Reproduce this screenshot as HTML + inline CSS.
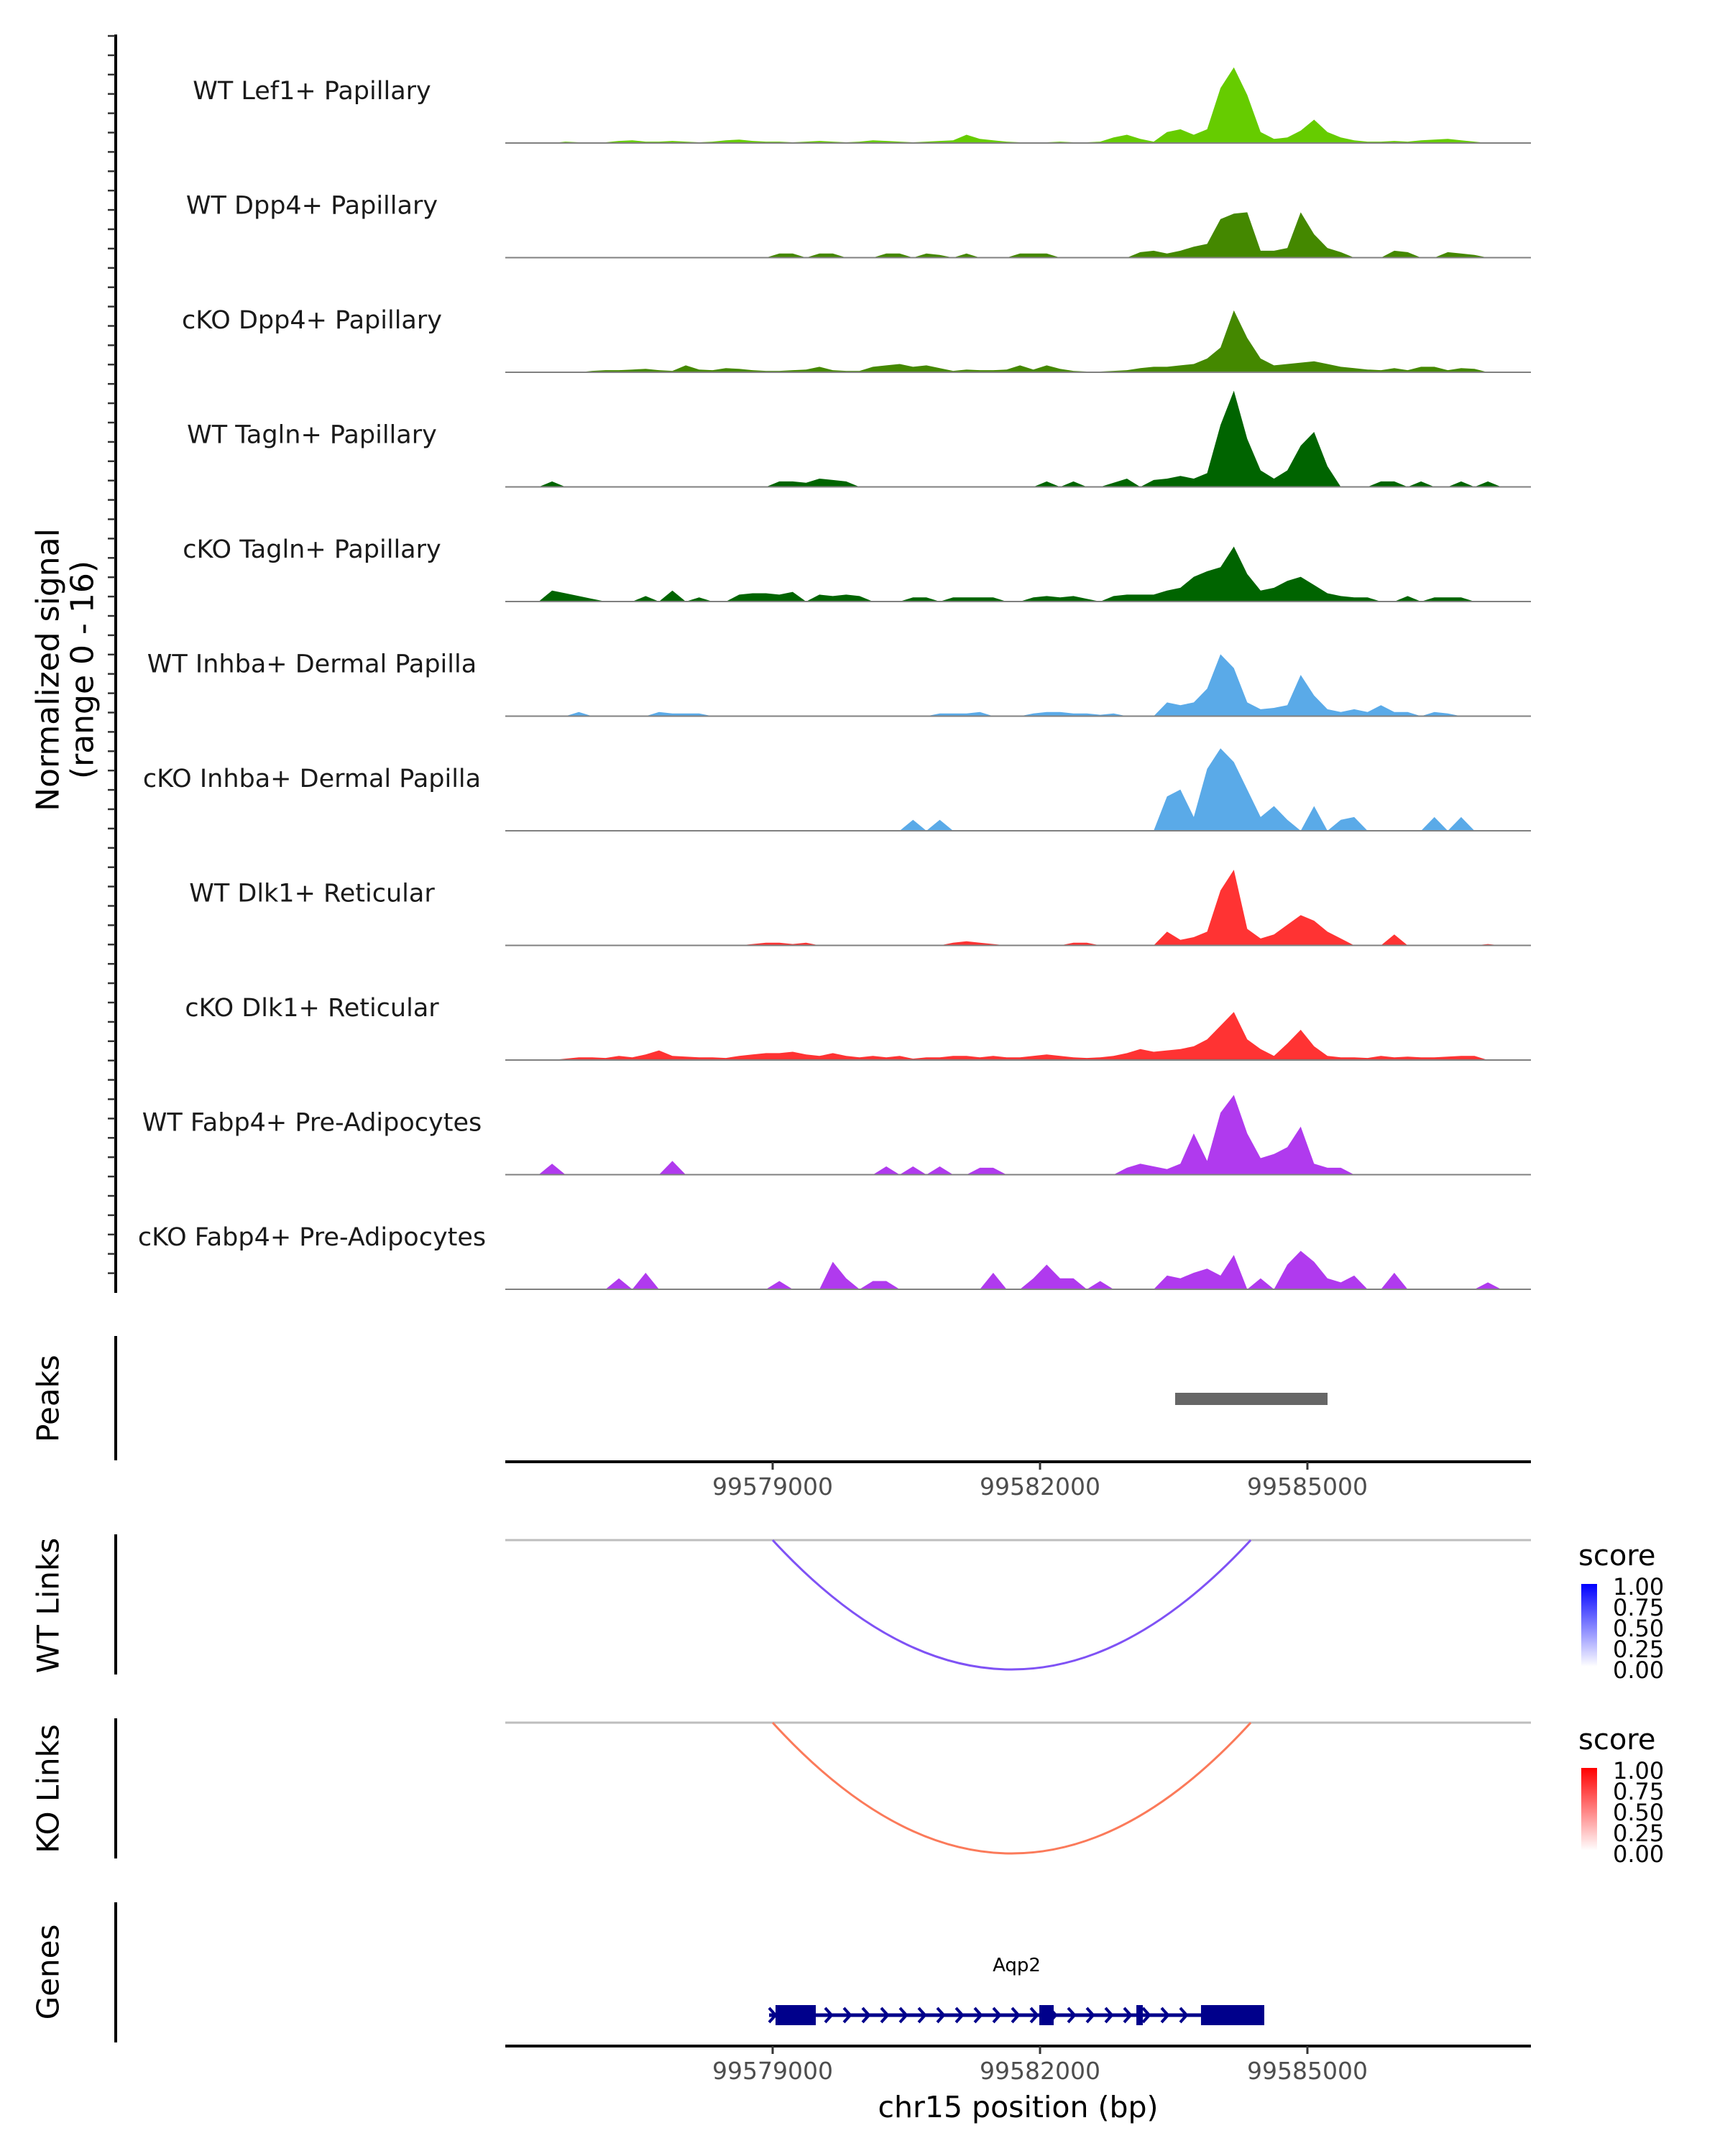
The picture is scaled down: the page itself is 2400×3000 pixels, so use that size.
<!DOCTYPE html>
<html><head><meta charset="utf-8"><style>
html,body{margin:0;padding:0;background:#fff}
svg{display:block;font-family:"DejaVu Sans","Liberation Sans",sans-serif}
</style></head><body>
<svg id="fig" xmlns="http://www.w3.org/2000/svg" width="2400" height="3000" viewBox="0 0 2400 3000">
<defs>
<linearGradient id="gWT" x1="0" y1="1" x2="0" y2="0"><stop offset="0" stop-color="#ffffff"/><stop offset="1" stop-color="#0000ff"/></linearGradient>
<linearGradient id="gKO" x1="0" y1="1" x2="0" y2="0"><stop offset="0" stop-color="#ffffff"/><stop offset="1" stop-color="#ff0000"/></linearGradient>
</defs>
<g id="tracks"></g>
<g id="other"></g>
</svg>
<script>
const trackNames = ["WT Lef1+ Papillary","WT Dpp4+ Papillary","cKO Dpp4+ Papillary","WT Tagln+ Papillary","cKO Tagln+ Papillary","WT Inhba+ Dermal Papilla","cKO Inhba+ Dermal Papilla","WT Dlk1+ Reticular","cKO Dlk1+ Reticular","WT Fabp4+ Pre-Adipocytes","cKO Fabp4+ Pre-Adipocytes"];
const trackColors = ["#66cc00","#448800","#448800","#006400","#006400","#5aaae8","#5aaae8","#ff3333","#ff3333","#b03aee","#b03aee"];
const binStart = 99576000;
const binSize = 150;
const sLef1 = [0,0,0,0,.2,.1,.1,.1,.3,.4,.2,.2,.3,.2,.1,.2,.4,.5,.3,.2,.2,.1,.2,.3,.2,.1,.2,.4,.3,.2,.1,.2,.3,.4,1.2,.6,.4,.2,.1,.1,.1,.2,.1,.1,.2,.8,1.2,.6,.2,1.6,2,1.2,2,8,11,7,1.6,.6,.8,1.8,3.4,1.6,.8,.4,.2,.2,.3,.2,.4,.5,.6,.4,.2,0,0,0];
const sWTDpp4 = [0,0,0,0,0,0,0,0,0,0,0,0,0,0,0,0,0,0,0,0,.6,.6,0,.6,.6,0,0,0,.6,.6,0,.6,.4,0,.6,0,0,0,.6,.6,.6,0,0,0,0,0,0,.8,1,.6,1,1.6,2,5.6,6.4,6.6,1,1,1.4,6.6,3.4,1.4,.8,0,0,0,1,.8,0,0,.8,.6,.4,0,0,0];
const sKODpp4 = [0,0,0,0,0,0,.2,.3,.3,.4,.5,.3,.2,1,.4,.3,.6,.5,.3,.2,.2,.3,.4,.8,.3,.2,.2,.8,1,1.2,.8,1,.6,.2,.4,.3,.3,.4,1,.4,1,.5,.2,.1,.1,.2,.3,.6,.8,.8,1,1.2,2,3.6,9,5,2,1,1.2,1.4,1.6,1.2,.8,.6,.4,.3,.6,.3,.8,.8,.3,.6,.5,0,0,0];
const sWTTagln = [0,0,0,.8,0,0,0,0,0,0,0,0,0,0,0,0,0,0,0,0,.8,.8,.6,1.2,1,.8,0,0,0,0,0,0,0,0,0,0,0,0,0,0,.8,0,.8,0,0,.6,1.2,0,1,1.2,1.6,1.2,2,9,14,7,2.4,1.2,2.4,6,8,3,0,0,0,.8,.8,0,.8,0,0,.8,0,.8,0,0];
const sKOTagln = [0,0,0,1.6,1.2,.8,.4,0,0,0,.8,0,1.6,0,.6,0,0,1,1.2,1.2,1,1.4,0,1,.8,1,.8,0,0,0,.6,.6,0,.6,.6,.6,.6,0,0,.6,.8,.6,.8,.4,0,.8,1,1,1,1.6,2,3.6,4.4,5,8,4,1.6,2,3,3.6,2.4,1.2,.8,.6,.6,0,0,.8,0,.6,.6,.6,0,0,0,0];
const sWTInhba = [0,0,0,0,0,.6,0,0,0,0,0,.6,.4,.4,.4,0,0,0,0,0,0,0,0,0,0,0,0,0,0,0,0,0,.4,.4,.4,.6,0,0,0,.4,.6,.6,.4,.4,.2,.4,0,0,0,2,1.6,2,4,9,7,2,1,1.2,1.6,6,3,1,.6,1,.6,1.6,.6,.6,0,.6,.4,0,0,0,0,0];
const sKOInhba = [0,0,0,0,0,0,0,0,0,0,0,0,0,0,0,0,0,0,0,0,0,0,0,0,0,0,0,0,0,0,1.6,0,1.6,0,0,0,0,0,0,0,0,0,0,0,0,0,0,0,0,5,6,2,9,12,10,6,2,3.6,1.6,0,3.6,0,1.6,2,0,0,0,0,0,2,0,2,0,0,0,0];
const sWTDlk1 = [0,0,0,0,0,0,0,0,0,0,0,0,0,0,0,0,0,0,.2,.4,.4,.2,.4,0,0,0,0,0,0,0,0,0,0,.4,.6,.4,.2,0,0,0,0,0,.4,.4,0,0,0,0,0,2,.8,1.2,2,8,11,2.4,1,1.6,3,4.4,3.6,2,1,0,0,0,1.6,0,0,0,0,0,0,.2,0,0];
const sKODlk1 = [0,0,0,0,.2,.4,.4,.3,.6,.4,.8,1.4,.6,.5,.4,.4,.3,.6,.8,1,1,1.2,.8,.6,1,.6,.4,.6,.4,.6,.2,.4,.4,.6,.6,.4,.6,.4,.4,.6,.8,.6,.4,.3,.4,.6,1,1.6,1.2,1.4,1.6,2,3,5,7,3,1.6,.6,2.4,4.4,2,.6,.4,.4,.3,.6,.4,.5,.4,.4,.5,.6,.6,0,0,0];
const sWTFabp4 = [0,0,0,1.6,0,0,0,0,0,0,0,0,2,0,0,0,0,0,0,0,0,0,0,0,0,0,0,0,1.2,0,1.2,0,1.2,0,0,1,1,0,0,0,0,0,0,0,0,0,1,1.6,1.2,.8,1.6,6,2,9,11.6,6,2.4,3,4,7,1.6,1,1,0,0,0,0,0,0,0,0,0,0,0,0,0];
const sKOFabp4 = [0,0,0,0,0,0,0,0,1.6,0,2.4,0,0,0,0,0,0,0,0,0,1.2,0,0,0,4,1.6,0,1.2,1.2,0,0,0,0,0,0,0,2.4,0,0,1.6,3.6,1.6,1.6,0,1.2,0,0,0,0,2,1.6,2.4,3,2,5,0,1.6,0,3.6,5.6,4,1.6,1,2,0,0,2.4,0,0,0,0,0,0,1,0,0];
const signals = [sLef1,sWTDpp4,sKODpp4,sWTTagln,sKOTagln,sWTInhba,sKOInhba,sWTDlk1,sKODlk1,sWTFabp4,sKOFabp4];
const xTicks = [99579000,99582000,99585000];
const peakRegion = [99583516,99585226];
const wtLink = [99579000,99584364];
const koLink = [99579000,99584364];
const legendTicks = ["1.00","0.75","0.50","0.25","0.00"];
const geneSpan = [99578960,99584516];
const exons = [[99579032,99579484],[99581992,99582153],[99583081,99583153],[99583806,99584516]];
const geneName = "Aqp2";

const NS="http://www.w3.org/2000/svg";
const X0=703, X1=2130, BP0=99576000, BP1=99587508;
function x(bp){return X0+(bp-BP0)/(BP1-BP0)*(X1-X0);}
const yMax=16, trackH=153;
function base(k){return 199+159.5*k;}
function yv(k,v){return base(k)-v/yMax*trackH;}
function mk(tag,attrs,parent){const e=document.createElementNS(NS,tag);for(const a in attrs)e.setAttribute(a,attrs[a]);parent.appendChild(e);return e;}
const T=document.getElementById('tracks'), O=document.getElementById('other');

signals.forEach((arr,k)=>{
  let pts=[[x(binStart),base(k)]];
  arr.forEach((v,i)=>pts.push([x(binStart+(i+0.5)*binSize),yv(k,v)]));
  pts.push([x(binStart+arr.length*binSize),base(k)]);
  const p=mk('polygon',{points:pts.map(q=>q[0].toFixed(1)+','+q[1].toFixed(1)).join(' '),fill:trackColors[k]},T);
  
  
  const l=mk('line',{x1:X0,x2:X1,y1:base(k),y2:base(k),stroke:'#808080','stroke-width':2},T);
  
  
  const t=mk('text',{x:434,y:base(k)-61,'text-anchor':'middle','font-size':35,fill:'#1a1a1a'},T);
  t.textContent=trackNames[k];
  
  
});
let ax=mk('line',{x1:161,x2:161,y1:48,y2:1799,stroke:'#000','stroke-width':4},O);


for(let y=50;y<=1797;y+=26.9){const tk=mk('line',{x1:150,x2:160,y1:y,y2:y,stroke:'#333','stroke-width':2.5},O);

}
function vtext(txt,cx,cy,size,name){const t=mk('text',{x:cx,y:cy,transform:`rotate(-90 ${cx} ${cy})`,'text-anchor':'middle','dominant-baseline':'central','font-size':size,fill:'#000'},O);t.textContent=txt;

}
vtext('Normalized signal',67,932,44,'y-axis-title');
vtext('(range 0 - 16)',115,932,44,'y-axis-subtitle');
function vline(y1,y2,name){const l=mk('line',{x1:161,x2:161,y1:y1,y2:y2,stroke:'#000','stroke-width':4},O);

}
vline(1859,2032,'peaks-axis');vtext('Peaks',67,1946,42,'peaks-title');
vline(2135,2330,'wt-links-axis');vtext('WT Links',67,2234,42,'wt-links-title');
vline(2391,2586,'ko-links-axis');vtext('KO Links',67,2489,42,'ko-links-title');
vline(2647,2842,'genes-axis');vtext('Genes',67,2744,42,'genes-title');
const pk=mk('rect',{x:x(peakRegion[0]),y:1938,width:x(peakRegion[1])-x(peakRegion[0]),height:17,fill:'#666'},O);


function xaxis(y,name){const l=mk('line',{x1:X0,x2:X1,y1:y,y2:y,stroke:'#000','stroke-width':4},O);


xTicks.forEach(b=>{const tk=mk('line',{x1:x(b),x2:x(b),y1:y,y2:y+11,stroke:'#333','stroke-width':3},O);


const t=mk('text',{x:x(b),y:y+46,'text-anchor':'middle','font-size':33,fill:'#4d4d4d'},O);t.textContent=b;

});}
xaxis(2034,'peaks-x-axis');xaxis(2847,'genes-x-axis');
const xt=mk('text',{x:(X0+X1)/2,y:2946,'text-anchor':'middle','font-size':41,fill:'#000'},O);xt.textContent='chr15 position (bp)';


function link(lk,top,bottom,color,name){const g=mk('line',{x1:X0,x2:X1,y1:top,y2:top,stroke:'#bebebe','stroke-width':3},O);


const a=x(lk[0]),b=x(lk[1]);const c=top+2*(bottom-top);
const p=mk('path',{d:`M${a},${top} Q${(a+b)/2},${c} ${b},${top}`,fill:'none',stroke:color,'stroke-width':3},O);

}
link(wtLink,2143,2323,'#7f52f5','wt-link');
link(koLink,2397,2579,'#fb7a5a','ko-link');
function legend(y0,grad,name){const t=mk('text',{x:2196,y:y0+14,'font-size':40,fill:'#000'},O);t.textContent='score';


const r=mk('rect',{x:2200,y:y0+40,width:22,height:115,fill:`url(#${grad})`},O);


legendTicks.forEach((s,i)=>{const lt=mk('text',{x:2244,y:y0+44+i*29,'dominant-baseline':'central','font-size':32,fill:'#000'},O);lt.textContent=s;

});}
legend(2164,'gWT','wt-legend');legend(2420,'gKO','ko-legend');
const gy=2804;
const gl=mk('line',{x1:x(geneSpan[0]),x2:x(geneSpan[1]),y1:gy,y2:gy,stroke:'#00008b','stroke-width':5},O);


for(let px=x(geneSpan[0])+4;px<x(exons[3][0]);px+=26){const c=mk('path',{d:`M${px-4},${gy-10} L${px+5},${gy} L${px-4},${gy+10}`,fill:'none',stroke:'#00008b','stroke-width':4},O);

}
exons.forEach(e=>{const r=mk('rect',{x:x(e[0]),y:gy-14,width:x(e[1])-x(e[0]),height:28,fill:'#00008b'},O);

});
const gn=mk('text',{x:x((geneSpan[0]+geneSpan[1])/2),y:2743,'text-anchor':'middle','font-size':26,fill:'#000'},O);gn.textContent=geneName;


</script>
</body></html>
